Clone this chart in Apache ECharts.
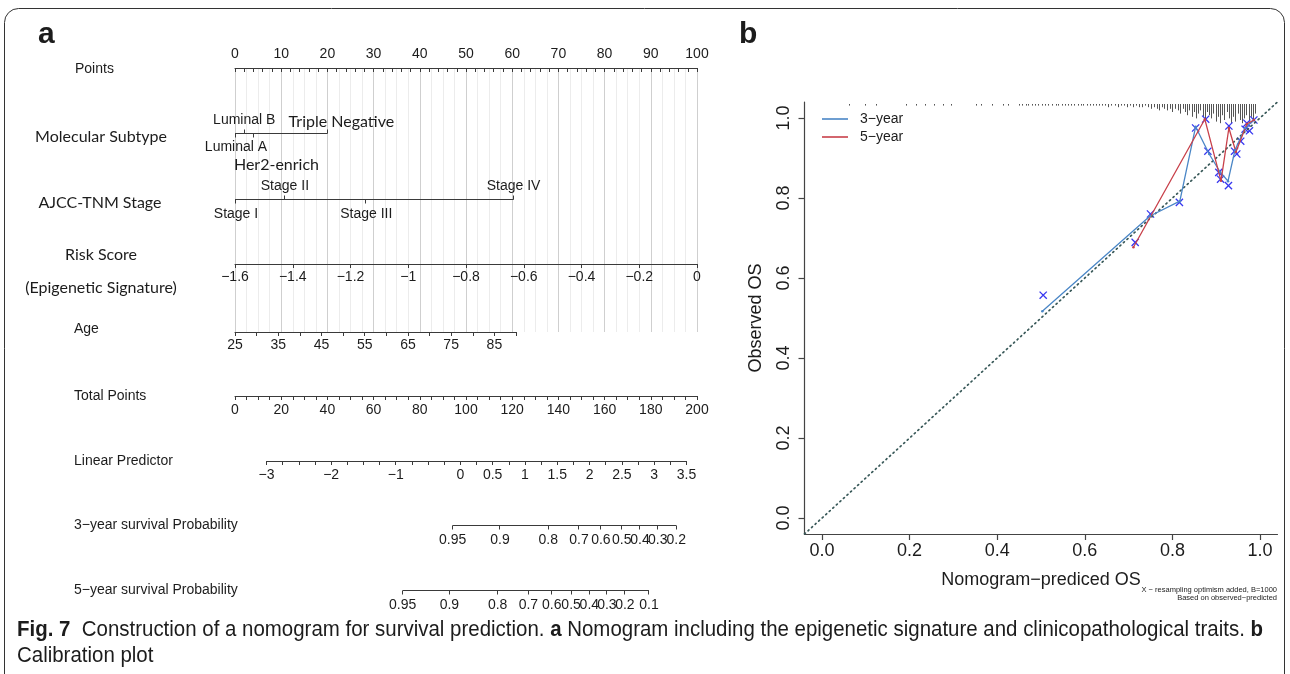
<!DOCTYPE html>
<html>
<head>
<meta charset="utf-8">
<script src="https://cdn.jsdelivr.net/npm/echarts@6.0.0/dist/echarts.min.js"></script>
<style>
html,body{margin:0;padding:0;background:#fff;}
#chart{width:1290px;height:674px;}
</style>
</head>
<body>
<div id="chart"></div>
<script>
// ================= DATA =================
// Panel a : nomogram scales
const pointsRange = [0, 100];
const molecularLevels = ['Luminal A', 'Luminal B', 'Her2-enrich', 'Triple Negative'];
const molecularPoints = [0, 2, 4, 20];
const stageLevels = ['Stage I', 'Stage II', 'Stage III', 'Stage IV'];
const stagePoints = [0, 10.8, 28.2, 60.3];
const riskScoreRange = [-1.6, 0];
const ageRange = [25, 90];
const totalPointsRange = [0, 200];
const linearPredictorRange = [-3, 3.5];
const surv3Labels = ['0.95', '0.9', '0.8', '0.7', '0.6', '0.5', '0.4', '0.3', '0.2'];
const surv3TotalPoints = [94.2, 114.7, 135.6, 148.9, 158.4, 167.4, 175.3, 183.0, 191.0];
const surv5Labels = ['0.95', '0.9', '0.8', '0.7', '0.6', '0.5', '0.4', '0.3', '0.2', '0.1'];
const surv5TotalPoints = [72.6, 92.8, 113.7, 127.0, 137.1, 145.5, 153.4, 161.0, 168.8, 179.2];

// Panel b : calibration plot
const calTicks = [0, 0.2, 0.4, 0.6, 0.8, 1.0];
const identityLine = [-0.04, 1.04];
const cal3Pred = [0.503, 0.749, 0.817, 0.853, 0.884, 0.909, 0.927, 0.943, 0.966, 0.986];
const cal3Obs  = [0.517, 0.755, 0.792, 0.978, 0.910, 0.865, 0.842, 0.920, 0.975, 0.995];
const cal5Pred = [0.711, 0.874, 0.911, 0.929, 0.945, 0.970, 0.986];
const cal5Obs  = [0.677, 0.997, 0.843, 0.975, 0.915, 0.985, 0.995];
const corrPred = [0.505, 0.715, 0.750, 0.816, 0.853, 0.876, 0.881, 0.906, 0.910, 0.928, 0.929, 0.942, 0.947, 0.956, 0.966, 0.970, 0.976, 0.986];
const corrObs  = [0.557, 0.689, 0.760, 0.789, 0.975, 0.997, 0.917, 0.864, 0.847, 0.831, 0.980, 0.917, 0.910, 0.942, 0.972, 0.987, 0.968, 0.995];
const rugPred = [0.062,0.100,0.125,0.192,0.215,0.237,0.257,0.277,0.295,0.352,0.365,0.390,0.414,0.425,
  0.452,0.458,0.466,0.472,0.480,0.487,0.495,0.503,0.510,0.518,
  0.527,0.535,0.541,0.548,0.556,0.563,0.570,0.577,0.585,0.592,0.598,0.606,0.613,0.620,0.627,0.634,
  0.641,0.648,0.655,0.662,0.669,0.676,0.683,0.690,0.697,0.704,0.711,0.718,0.725,0.732,0.739,0.746,
  0.753,0.759,0.765,0.771,0.777,0.783,0.789,0.795,0.801,0.807,0.813,0.819,0.825,0.830,
  0.835,0.840,0.845,0.850,0.855,0.860,0.865,0.870,0.875,0.880,0.885,0.890,0.895,0.900,0.905,0.910,
  0.915,0.920,0.925,0.930,0.935,0.940,0.945,0.950,0.955,0.960,0.965,0.970,0.975,0.980,0.985,0.990];
const rugFreq = [1,1,1,1,1,1,1,1,1,1,1,1,1,1,
  1,1,1,1,1,1,1,1,1,1,
  1,1,1,1,1,1,1,1,1,1,1,1,1,1,1,1,
  1,1,2,1,1,2,1,1,2,1,2,1,2,2,1,2,
  3,2,3,4,2,3,4,3,5,3,4,6,3,5,
  7,4,8,5,9,6,4,8,10,5,7,9,6,11,8,12,
  7,10,5,9,12,8,11,6,10,12,9,7,11,8,10,6];

// ================= LAYOUT / STYLE =================
const AXIS_COLOR = '#3a3a3a';
const TEXT = '#1c1c1c';
const F_R = "'Liberation Sans', Arial, Helvetica, sans-serif";
const F_C = "Lato, 'Open Sans', 'Noto Sans', sans-serif";
const ROW = { mol: 133.5, stage: 199.5, surv3: 525.5, surv5: 590.5 };
const TICK = 4;
const molLayout = [
  { dx: 1,  dy: 14,  tick: 4,  font: '14px ' + F_R },
  { dx: 0,  dy: -13, tick: -4, font: '14px ' + F_R },
  { dx: 23, dy: 31,  tick: 4,  font: '16px ' + F_C },
  { dx: 14, dy: -12, tick: -4, font: '16px ' + F_C }
];
const stageLayout = [
  { dx: 1, dy: 15,  tick: 4,  font: '14px ' + F_R },
  { dx: 0, dy: -13, tick: -4, font: '14px ' + F_R },
  { dx: 1, dy: 15,  tick: 4,  font: '14px ' + F_R },
  { dx: 0, dy: -13, tick: -4, font: '14px ' + F_R }
];
const RUG_TOP = 1.035;
const RUG_UNIT = 1.6;

function crisp(v) { return Math.round(v - 0.5) + 0.5; }
function txtStyle(text, font, align, valign) {
  return { text: text, font: font, fill: TEXT, align: align, verticalAlign: valign,
           textAlign: align, textVerticalAlign: valign };
}
function minusFmt(v) {
  const r = Math.round(v * 100) / 100;
  return r < 0 ? '\u2212' + Math.abs(r) : String(r);
}

function catSeries(levels, pts, rowY, layout) {
  const lo = Math.min.apply(null, pts), hi = Math.max.apply(null, pts);
  return {
    type: 'custom', xAxisIndex: 6, yAxisIndex: 5, silent: true, clip: false,
    data: pts.map((p, i) => [p, i]),
    renderItem(params, api) {
      const i = params.dataIndex;
      const p = api.coord([api.value(0), rowY]);
      const lay = layout[i];
      const ch = [];
      const y = crisp(p[1]);
      if (i === 0) {
        const a = api.coord([lo, rowY]), b = api.coord([hi, rowY]);
        ch.push({ type: 'line', shape: { x1: a[0], y1: y, x2: b[0], y2: y }, style: { stroke: AXIS_COLOR, lineWidth: 1 } });
      }
      ch.push({ type: 'line', shape: { x1: crisp(p[0]), y1: y, x2: crisp(p[0]), y2: y + lay.tick }, style: { stroke: AXIS_COLOR, lineWidth: 1 } });
      ch.push({ type: 'text', x: p[0] + lay.dx, y: p[1] + lay.dy, style: txtStyle(levels[i], lay.font, 'center', 'middle') });
      return { type: 'group', children: ch };
    }
  };
}

function survSeries(labels, tps, rowY) {
  const lo = Math.min.apply(null, tps), hi = Math.max.apply(null, tps);
  return {
    type: 'custom', xAxisIndex: 7, yAxisIndex: 5, silent: true, clip: false,
    data: tps.map((t, i) => [t, i]),
    renderItem(params, api) {
      const i = params.dataIndex;
      const p = api.coord([api.value(0), rowY]);
      const y = crisp(p[1]);
      const ch = [];
      if (i === 0) {
        const a = api.coord([lo, rowY]), b = api.coord([hi, rowY]);
        ch.push({ type: 'line', shape: { x1: a[0], y1: y, x2: b[0], y2: y }, style: { stroke: AXIS_COLOR, lineWidth: 1 } });
      }
      ch.push({ type: 'line', shape: { x1: crisp(p[0]), y1: y, x2: crisp(p[0]), y2: y + TICK }, style: { stroke: AXIS_COLOR, lineWidth: 1 } });
      ch.push({ type: 'text', x: p[0], y: p[1] + 15, style: txtStyle(labels[i], '14px ' + F_R, 'center', 'middle') });
      return { type: 'group', children: ch };
    }
  };
}

function hiddenY(g) { return { gridIndex: g, type: 'value', show: false, min: 0, max: 1 }; }
function numAxis(g, range, interval, opts) {
  return Object.assign({
    gridIndex: g, type: 'value', min: range[0], max: range[1], interval: interval, position: 'bottom',
    axisLine: { show: true, onZero: false, lineStyle: { color: AXIS_COLOR, width: 1 } },
    axisTick: { show: true, inside: false, length: TICK, lineStyle: { color: AXIS_COLOR, width: 1 } },
    axisLabel: { show: true, margin: 7, fontSize: 14, fontFamily: F_R, color: TEXT, showMinLabel: true, showMaxLabel: true },
    splitLine: { show: false }
  }, opts || {});
}

const grids = [
  { left: 235, top: 68, width: 462, height: 264 },
  { left: 235, top: 263, width: 462, height: 1 },
  { left: 235, top: 331, width: 281, height: 1 },
  { left: 235, top: 395, width: 462, height: 1 },
  { left: 266.5, top: 460, width: 420, height: 1 },
  { left: 235, top: 0, width: 462, height: 674 },
  { left: 804.5, top: 102, width: 473, height: 432 }
].map(g => Object.assign({ containLabel: false, outerBoundsMode: 'none' }, g));

const xAxes = [
  numAxis(0, pointsRange, 10, {
    position: 'top',
    axisTick: { show: true, inside: true, length: TICK, lineStyle: { color: AXIS_COLOR } },
    minorTick: { show: true, splitNumber: 5, length: TICK, lineStyle: { color: AXIS_COLOR, width: 1 } }
  }),
  { gridIndex: 0, type: 'value', min: pointsRange[0], max: pointsRange[1], interval: 2.5, position: 'bottom',
    axisLine: { show: false }, axisTick: { show: false }, axisLabel: { show: false },
    splitLine: { show: true, lineStyle: { color: ['#cfcfcf', '#ececec', '#ececec', '#ececec'], width: 1 } } },
  numAxis(1, riskScoreRange, 0.2, { axisLabel: { margin: 6, fontSize: 14, fontFamily: F_R, color: TEXT, showMinLabel: true, showMaxLabel: true, formatter: minusFmt } }),
  numAxis(2, ageRange, 5, { axisLabel: { margin: 6, fontSize: 14, fontFamily: F_R, color: TEXT, showMinLabel: true, showMaxLabel: true,
    formatter: v => ((Math.round(v) - ageRange[0]) % 10 === 0 && v < ageRange[1]) ? String(Math.round(v)) : '' } }),
  numAxis(3, totalPointsRange, 20, { minorTick: { show: true, splitNumber: 4, length: TICK, lineStyle: { color: AXIS_COLOR, width: 1 } } }),
  numAxis(4, linearPredictorRange, 0.25, { axisLabel: { margin: 7, fontSize: 14, fontFamily: F_R, color: TEXT, showMinLabel: true, showMaxLabel: true,
    formatter: v => { const r = Math.round(v * 100) / 100; if (r < 0) return Number.isInteger(r) ? minusFmt(r) : ''; return Number.isInteger(r * 2) ? String(r) : ''; } } }),
  { gridIndex: 5, type: 'value', show: false, min: pointsRange[0], max: pointsRange[1] },
  { gridIndex: 5, type: 'value', show: false, min: totalPointsRange[0], max: totalPointsRange[1] },
  { gridIndex: 6, type: 'value', min: identityLine[0], max: identityLine[1],
    axisLine: { show: true, onZero: false, lineStyle: { color: '#444', width: 1.2 } },
    axisTick: { show: true, customValues: calTicks, length: 6, lineStyle: { color: '#444', width: 1.2 } },
    axisLabel: { show: true, customValues: calTicks, formatter: v => v.toFixed(1), margin: 8, fontSize: 18, fontFamily: F_R, color: TEXT },
    splitLine: { show: false },
    name: 'Nomogram\u2212prediced OS', nameLocation: 'middle', nameGap: 37,
    nameTextStyle: { fontSize: 18, fontFamily: F_R, color: TEXT } }
];

const yAxes = [
  hiddenY(0), hiddenY(1), hiddenY(2), hiddenY(3), hiddenY(4),
  { gridIndex: 5, type: 'value', show: false, min: 0, max: 674, inverse: true },
  { gridIndex: 6, type: 'value', min: identityLine[0], max: identityLine[1],
    axisLine: { show: true, onZero: false, lineStyle: { color: '#444', width: 1.2 } },
    axisTick: { show: true, customValues: calTicks, length: 6, lineStyle: { color: '#444', width: 1.2 } },
    axisLabel: { show: true, customValues: calTicks, formatter: v => v.toFixed(1), rotate: 90, margin: 11, fontSize: 18, fontFamily: F_R, color: TEXT },
    splitLine: { show: false },
    name: 'Observed OS', nameLocation: 'middle', nameGap: 39,
    nameTextStyle: { fontSize: 18, fontFamily: F_R, color: TEXT } }
];

const series = [
  catSeries(molecularLevels, molecularPoints, ROW.mol, molLayout),
  catSeries(stageLevels, stagePoints, ROW.stage, stageLayout),
  survSeries(surv3Labels, surv3TotalPoints, ROW.surv3),
  survSeries(surv5Labels, surv5TotalPoints, ROW.surv5),
  { type: 'line', name: 'identity', xAxisIndex: 8, yAxisIndex: 6, silent: true,
    data: identityLine.map(v => [v, v]), symbol: 'none',
    lineStyle: { color: '#385858', width: 1.7, type: [1.2, 3.6], cap: 'round' } },
  { type: 'custom', name: 'rug', xAxisIndex: 8, yAxisIndex: 6, silent: true, clip: false,
    data: rugPred.map((p, i) => [p, rugFreq[i]]),
    renderItem(params, api) {
      const p = api.coord([api.value(0), RUG_TOP]);
      const x = crisp(p[0]);
      return { type: 'line', shape: { x1: x, y1: p[1], x2: x, y2: p[1] + api.value(1) * RUG_UNIT },
               style: { stroke: '#555', lineWidth: 1 } };
    } },
  { type: 'line', name: '3\u2212year', xAxisIndex: 8, yAxisIndex: 6, silent: true,
    data: cal3Pred.map((p, i) => [p, cal3Obs[i]]), symbol: 'circle', symbolSize: 2.5, showSymbol: true,
    lineStyle: { color: '#4a86c6', width: 1.3 }, itemStyle: { color: '#4a86c6' } },
  { type: 'line', name: '5\u2212year', xAxisIndex: 8, yAxisIndex: 6, silent: true,
    data: cal5Pred.map((p, i) => [p, cal5Obs[i]]), symbol: 'circle', symbolSize: 2.5, showSymbol: true,
    lineStyle: { color: '#c8404a', width: 1.3 }, itemStyle: { color: '#c8404a' } },
  { type: 'custom', name: 'corrected', xAxisIndex: 8, yAxisIndex: 6, silent: true, clip: false,
    data: corrPred.map((p, i) => [p, corrObs[i]]),
    renderItem(params, api) {
      const p = api.coord([api.value(0), api.value(1)]);
      const s = 3.6, st = { stroke: '#3636f0', lineWidth: 1.3 };
      return { type: 'group', children: [
        { type: 'line', shape: { x1: p[0] - s, y1: p[1] - s, x2: p[0] + s, y2: p[1] + s }, style: st },
        { type: 'line', shape: { x1: p[0] - s, y1: p[1] + s, x2: p[0] + s, y2: p[1] - s }, style: st }
      ] };
    } }
];

// caption width fit (condensed look)
const CAP_FONT = 22;
function measure(txt, font) { const c = document.createElement('canvas').getContext('2d'); c.font = font; return c.measureText(txt).width; }
const capB = 'bold ' + CAP_FONT + 'px ' + F_R, capN = CAP_FONT + 'px ' + F_R;
const capParts = [['Fig. 7', 'b'], ['  Construction of a nomogram for survival prediction. ', 'n'], ['a', 'b'],
  [' Nomogram including the epigenetic signature and clinicopathological traits. ', 'n'], ['b', 'b']];
const capW = capParts.reduce((s, p) => s + measure(p[0], p[1] === 'b' ? capB : capN), 0);
const capScale = 1246 / capW;
const capText = capParts.map(p => '{' + p[1] + '|' + p[0] + '}').join('');

function label(text, x, y, font, align) {
  return { type: 'text', x: x, y: y, silent: true, style: txtStyle(text, font, align || 'left', 'middle') };
}

const graphics = [
  { type: 'rect', silent: true, shape: { x: 4.5, y: 8.5, width: 1280, height: 720, r: 14 },
    style: { fill: 'none', stroke: '#333', lineWidth: 1 } },
  label('a', 38, 35, 'bold 30px ' + F_R),
  label('b', 739, 35, 'bold 30px ' + F_R),
  label('Points', 75, 69, '14px ' + F_R),
  label('Molecular Subtype', 101, 136.5, '16px ' + F_C, 'center'),
  label('AJCC-TNM Stage', 100, 203, '16px ' + F_C, 'center'),
  label('Risk Score', 101, 255, '16px ' + F_C, 'center'),
  label('(Epigenetic Signature)', 101, 287.5, '16px ' + F_C, 'center'),
  label('Age', 74, 329, '14px ' + F_R),
  label('Total Points', 74, 396, '14px ' + F_R),
  label('Linear Predictor', 74, 461, '14px ' + F_R),
  label('3\u2212year survival Probability', 74, 525, '14px ' + F_R),
  label('5\u2212year survival Probability', 74, 590, '14px ' + F_R),
  label('X \u2212 resampling optimism added, B=1000', 1277, 590, '7.5px ' + F_R, 'right'),
  label('Based on observed\u2212predicted', 1277, 598, '7.5px ' + F_R, 'right'),
  { type: 'text', x: 17, y: 630, scaleX: capScale, silent: true,
    style: { text: capText, fill: TEXT, align: 'left', verticalAlign: 'middle', textAlign: 'left', textVerticalAlign: 'middle',
      font: capN, rich: { b: { font: capB, fill: TEXT }, n: { font: capN, fill: TEXT } } } },
  { type: 'text', x: 17, y: 656, scaleX: capScale, silent: true,
    style: txtStyle('Calibration plot', capN, 'left', 'middle') }
];

const chart = echarts.init(document.getElementById('chart'), null, { renderer: 'canvas' });
chart.setOption({
  animation: false,
  backgroundColor: '#fff',
  grid: grids,
  xAxis: xAxes,
  yAxis: yAxes,
  legend: {
    data: ['3\u2212year', '5\u2212year'], orient: 'vertical', left: 817, top: 106,
    icon: 'rect', itemWidth: 26, itemHeight: 1.6, itemGap: 2, selectedMode: false,
    textStyle: { fontSize: 14, fontFamily: F_R, color: TEXT, lineHeight: 16, padding: [0, 0, 0, 7] }
  },
  series: series,
  graphic: graphics
});
</script>
</body>
</html>
